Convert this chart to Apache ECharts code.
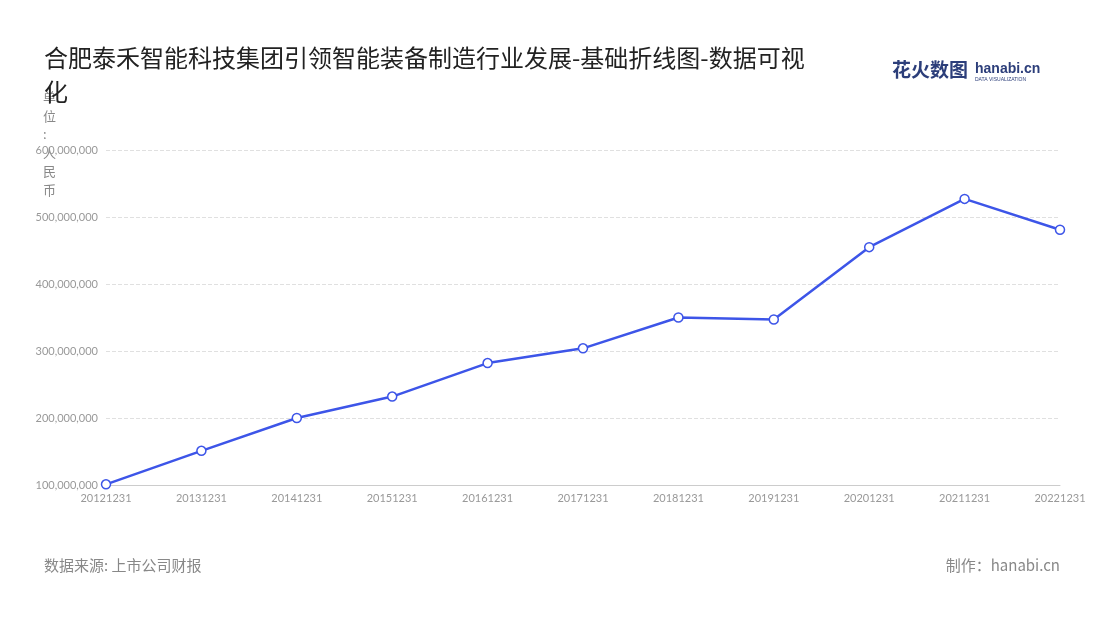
<!DOCTYPE html>
<html><head><meta charset="utf-8">
<script src="https://cdn.jsdelivr.net/npm/echarts@6/dist/echarts.min.js"></script>
<style>html,body{margin:0;padding:0;background:#fff}#c{width:1100px;height:620px}</style>
</head><body><div id="c"></div>
<script>
const categories = ['20121231','20131231','20141231','20151231','20161231','20171231','20181231','20191231','20201231','20211231','20221231'];
const values = [101000000,151000000,200000000,232000000,282000000,304000000,350000000,347000000,455000000,527000000,481000000];
const chart = echarts.init(document.getElementById('c'));
chart.setOption({
  backgroundColor:'#fff',
  title:{text:'合肥泰禾智能科技集团引领智能装备制造行业发展-基础折线图-数据可视\n化',left:39,top:36,textStyle:{fontSize:24,fontWeight:'normal',color:'#222',lineHeight:34,fontFamily:'Noto Sans CJK SC'}},
  graphic:[
    {type:'text',left:892,top:60,style:{text:'花火数图',fontSize:19,fontWeight:'bold',fill:'#2c3e7a',fontFamily:'Noto Sans CJK SC'}},
    {type:'text',left:975,top:62,style:{text:'hanabi.cn',fontSize:14,fontWeight:'bold',fill:'#2c3e7a'}},
    {type:'text',left:975,top:77,style:{text:'DATA VISUALIZATION',fontSize:5,fill:'#2c3e7a'}},
    {type:'text',left:44,top:558,style:{text:'数据来源: 上市公司财报',fontSize:15,fill:'#888',fontFamily:'Noto Sans CJK SC'}},
    {type:'text',right:40,top:558,style:{text:'制作：hanabi.cn',fontSize:15,fill:'#888',fontFamily:'Noto Sans CJK SC'}},
    {type:'text',left:43,top:88,style:{text:'单\n位\n:\n人\n民\n币',fontSize:13,fill:'#888',lineHeight:18.5,fontFamily:'Noto Sans CJK SC'}}
  ],
  grid:{left:106,right:40,top:150,bottom:135},
  xAxis:{type:'category',data:categories,boundaryGap:false,axisLine:{lineStyle:{color:'#ccc'}},axisTick:{show:false},axisLabel:{color:'#999',fontSize:11,interval:0,fontFamily:'Lato'}},
  yAxis:{type:'value',min:100000000,max:600000000,interval:100000000,axisLabel:{color:'#999',fontSize:11,fontFamily:'Lato',formatter:v=>v.toLocaleString('en-US')},splitLine:{lineStyle:{type:'dashed',color:'#e0e0e0'}}},
  series:[{type:'line',data:values,symbol:'circle',symbolSize:9,itemStyle:{color:'#fff',borderColor:'#3d55e8',borderWidth:1.5},lineStyle:{color:'#3d55e8',width:2.5}}]
});
</script></body></html>
